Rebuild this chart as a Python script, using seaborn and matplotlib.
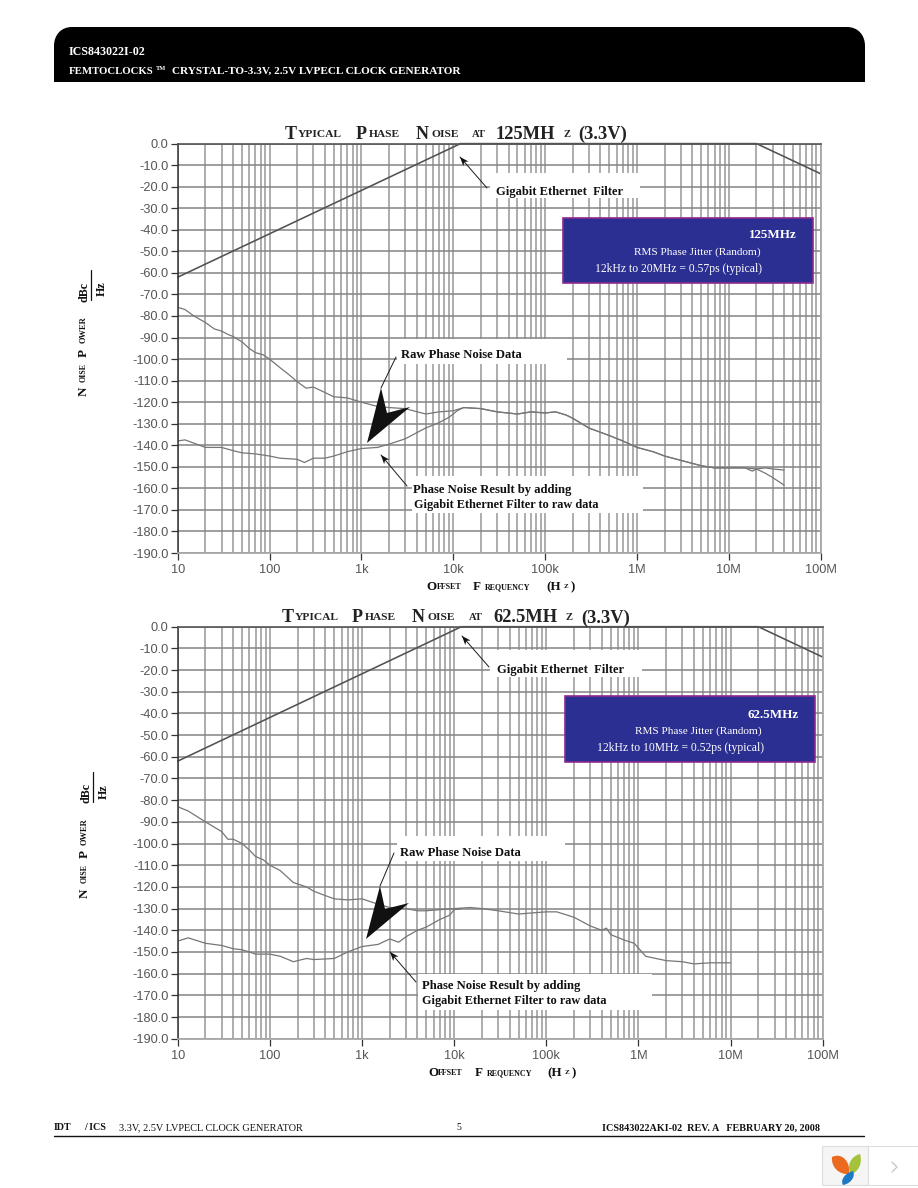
import numpy as np
import matplotlib
matplotlib.use("Agg")
import matplotlib.pyplot as plt
from matplotlib.patches import Rectangle, Polygon, PathPatch
from matplotlib.path import Path
from matplotlib.ticker import FixedLocator, NullFormatter
import seaborn as sns

# ---------- data ----------
y_ticks = [0, -10, -20, -30, -40, -50, -60, -70, -80, -90, -100, -110, -120, -130, -140, -150, -160, -170, -180, -190]
x_major = [10, 100, 1e3, 1e4, 1e5, 1e6, 1e7, 1e8]
x_labels = ["10", "100", "1k", "10k", "100k", "1M", "10M", "100M"]

filter_top_x = [10, 12000, 20e6, 100e6]
filter_top_y = [-62, 0, 0, -14]
filter_bot_x = [10, 12000, 20e6, 100e6]
filter_bot_y = [-62, 0, 0, -14]

raw_top_x = [10, 12, 15, 20, 25, 30, 35, 40, 50, 60, 70, 85, 100, 130, 160, 200, 250, 300, 400, 500, 700, 1000,
             1500, 2000, 3000, 5000, 7000, 10000, 13000, 20000, 30000, 50000, 70000, 100000, 130000, 170000,
             200000, 300000, 500000, 700000, 1e6, 1.5e6, 2e6, 3e6, 5e6, 7e6, 10e6, 15e6, 20e6, 25e6, 30e6, 40e6]
raw_top_y = [-76, -77, -80, -83, -86, -87, -88.5, -89.5, -92, -95, -97, -98, -100, -104, -107, -110.5, -113.5, -113,
             -115.5, -117.5, -118, -120, -122, -122.5, -123, -125.5, -124.5, -124, -122.5, -123, -124.5, -125.5, -124.5,
             -125, -124.5, -126, -127.5, -132, -135.5, -138, -141, -143, -145, -147, -149.5, -150.5, -150.5, -150.5,
             -151, -150.5, -151, -151.5]
res_top_x = [10, 12, 15, 20, 30, 40, 50, 70, 100, 130, 200, 240, 300, 400, 500, 700, 1000, 1500, 2000, 3000, 5000,
             7000, 9000, 10000, 11000, 13000, 20000, 30000, 50000, 70000, 100000, 130000, 170000, 200000, 300000,
             500000, 700000, 1e6, 1.5e6, 2e6, 3e6, 5e6, 7e6, 10e6, 15e6, 18e6, 20e6, 25e6, 30e6, 40e6]
res_top_y = [-138, -137.5, -139, -141, -141, -142.5, -143.5, -144, -145, -146, -146.5, -148, -146, -146, -145, -143,
             -141.5, -141, -139.5, -137, -132, -129.5, -127, -125.5, -124, -122.5, -123, -124.5, -125.5, -124.5, -125,
             -124.5, -126, -127.5, -132, -135.5, -138, -141, -143, -145, -147, -149.5, -150.5, -150.5, -150.5, -152,
             -151, -153, -155, -158.5]

raw_bot_x = [10, 13, 20, 30, 35, 40, 50, 60, 70, 85, 100, 130, 180, 250, 300, 400, 500, 700, 1000, 1500, 2000, 3000,
             4000, 5000, 7000, 10000, 15000, 20000, 30000, 50000, 70000, 100000, 130000, 200000, 300000, 400000,
             450000, 500000, 700000, 900000, 1.2e6, 2e6, 3e6, 4e6, 6e6, 10e6]
raw_bot_y = [-83, -85, -90, -94.5, -98, -98, -100, -103, -106, -107.5, -110, -112.5, -118, -120, -122, -124, -125.5,
             -126, -125.5, -128, -129.5, -130, -131, -131, -130.5, -130, -129.5, -130, -131, -132.5, -132, -131.5,
             -131.5, -134, -138, -140, -139, -142, -144.5, -146, -152, -154, -154.5, -155.5, -155, -155]
res_bot_x = [10, 13, 20, 30, 40, 50, 60, 70, 100, 130, 180, 250, 300, 500, 700, 1000, 1500, 2000, 2500, 3000, 4000,
             5000, 7000, 9000, 10000, 12000]
res_bot_y = [-145, -143.5, -146, -147, -148.5, -149, -150, -151, -151, -152, -154.5, -153, -153.5, -153, -150, -147.5,
             -146.5, -144, -145.5, -143, -140, -138.5, -135, -133, -130.5, -130]

W, H = 918, 1188
sns.set_theme(style="white")
fig = plt.figure(figsize=(W / 100, H / 100), dpi=100, facecolor="white")

SERIF = "Liberation Serif"
SANS = "Liberation Sans"
PX = 0.72


def make_axes(l, r, t, b, fx, fy, rx, ry, qx, qy):
    ax = fig.add_axes([l / W, 1 - b / H, (r - l) / W, (b - t) / H], zorder=1)
    ax.set_xscale("log")
    ax.set_xlim(10, 1e8)
    ax.set_ylim(-190, 0)
    minors = [m * 10.0 ** e for e in range(1, 8) for m in range(2, 10)]
    ax.xaxis.set_major_locator(FixedLocator(x_major))
    ax.xaxis.set_minor_locator(FixedLocator(minors))
    ax.xaxis.set_minor_formatter(NullFormatter())
    ax.set_xticks(x_major, x_labels)
    ax.set_yticks(y_ticks, [f"{v:.1f}" for v in y_ticks])
    ax.grid(True, which="major", axis="y", color="#848484", lw=1.1)
    ax.grid(True, which="both", axis="x", color="#979797", lw=1.1)
    ax.set_axisbelow(True)
    ax.tick_params(axis="both", which="minor", length=0)
    ax.tick_params(axis="y", which="major", length=5, width=0.9, color="#333333", labelsize=9.2,
                   labelcolor="#555555", pad=1.5, left=True)
    ax.tick_params(axis="x", which="major", length=5, width=0.9, color="#333333", labelsize=9.2,
                   labelcolor="#555555", pad=3, bottom=True)
    for lab in ax.get_xticklabels() + ax.get_yticklabels():
        lab.set_fontfamily(SANS)
    ax.spines["top"].set(color="#555555", lw=1.2)
    ax.spines["left"].set(color="#333333", lw=1.1)
    ax.spines["bottom"].set(color="#a8a8a8", lw=1.3)
    ax.spines["right"].set(color="#a8a8a8", lw=1.3)
    sns.lineplot(x=qx, y=qy, ax=ax, color="#767676", lw=0.9, estimator=None, sort=False, legend=False)
    sns.lineplot(x=rx, y=ry, ax=ax, color="#767676", lw=0.9, estimator=None, sort=False, legend=False)
    sns.lineplot(x=fx, y=fy, ax=ax, color="#4f5254", lw=1.15, estimator=None, sort=False, legend=False, clip_on=False)
    ax.set_xlabel("")
    ax.set_ylabel("")
    return ax


make_axes(177.7, 820.7, 143.6, 553, filter_top_x, filter_top_y, raw_top_x, raw_top_y, res_top_x, res_top_y)
make_axes(177.7, 822.7, 626.7, 1038.7, filter_bot_x, filter_bot_y, raw_bot_x, raw_bot_y, res_bot_x, res_bot_y)

# page overlay in pixel coordinates
page = fig.add_axes([0, 0, 1, 1], zorder=5)
page.set_xlim(0, W)
page.set_ylim(H, 0)
page.axis("off")
page.patch.set_alpha(0)


def T(x, y, s, px=12, bold=True, color="#111111", ha="left", rot=0, va="center"):
    page.text(x, y, s, fontsize=px * PX, family=SERIF, weight="bold" if bold else "normal", color=color,
              ha=ha, va=va, rotation=rot, rotation_mode="anchor" if rot else "default")


def box(x0, y0, x1, y1, fc="white", ec="none", lw=0, z=2):
    page.add_patch(Rectangle((x0, y0), x1 - x0, y1 - y0, fc=fc, ec=ec, lw=lw, zorder=z))


def arrow(head, tail):
    page.plot([head[0], tail[0]], [head[1], tail[1]], color="#1a1a1a", lw=0.7, zorder=3)
    d = np.array(tail, float) - np.array(head, float)
    d = d / np.hypot(*d)
    n = np.array([-d[1], d[0]])
    h = np.array(head, float)
    page.add_patch(Polygon([h, h + d * 9 + n * 3.5, h + d * 6.5, h + d * 9 - n * 3.5], fc="#111111", ec="none", zorder=3))


# header
hdr_codes = [Path.MOVETO, Path.LINETO, Path.CURVE4, Path.CURVE4, Path.CURVE4, Path.LINETO,
             Path.CURVE4, Path.CURVE4, Path.CURVE4, Path.LINETO, Path.CLOSEPOLY]
hdr_verts = [(54, 82), (54, 46), (54, 35), (61, 27), (72, 27), (847, 27), (858, 27), (865, 35), (865, 46), (865, 82), (54, 82)]
page.add_patch(PathPatch(Path(hdr_verts, hdr_codes), fc="black", ec="none", zorder=1))
T(69, 52, "ICS843022I-02", 12, color="white")
T(69, 71, "FEMTOCLOCKS", 10.7, color="white")
T(156, 68.5, "TM", 6.5, color="white")
T(172, 71, "CRYSTAL-TO-3.3V, 2.5V LVPECL CLOCK GENERATOR", 11.3, color="white")

# white label patches, blue boxes, callouts
for b in [(490, 173, 640, 198), (397, 339, 567, 364), (412, 476, 643, 513),
          (490, 650, 642, 677), (397, 836, 565, 861), (418, 974, 652, 1010)]:
    box(*b)
box(563, 218, 813, 283, fc="#2b2f92", ec="#8e2a90", lw=1.2)
box(565, 696, 815, 762, fc="#2b2f92", ec="#8e2a90", lw=1.2)

T(749, 235, "125MHz", 13, color="white")
T(634, 252.5, "RMS Phase Jitter (Random)", 11.2, bold=False, color="white")
T(595, 269, "12kHz to 20MHz = 0.57ps (typical)", 11.6, bold=False, color="white")
T(747, 714.5, "62.5MHz", 13, color="white")
T(635, 731.5, "RMS Phase Jitter (Random)", 11.2, bold=False, color="white")
T(597, 747.5, "12kHz to 10MHz = 0.52ps (typical)", 11.6, bold=False, color="white")

T(496, 191.5, "Gigabit Ethernet  Filter", 12.5)
T(401, 355.5, "Raw Phase Noise Data", 12.6)
T(413, 489.5, "Phase Noise Result by adding", 12.6)
T(414, 505, "Gigabit Ethernet Filter to raw data", 12.3)
T(497, 670, "Gigabit Ethernet  Filter", 12.5)
T(400, 852.5, "Raw Phase Noise Data", 12.6)
T(422, 986.5, "Phase Noise Result by adding", 12.6)
T(422, 1001, "Gigabit Ethernet Filter to raw data", 12.3)

arrow((460, 157), (487, 188))
arrow((381, 455), (407, 486))
arrow((462, 636), (489, 667))
arrow((390, 952), (416, 982))

page.add_patch(Polygon([(367, 443), (381, 388), (387, 413), (410, 407)], fc="#111111", ec="none", zorder=4))
page.plot([381, 396], [388, 357], color="#1a1a1a", lw=0.7, zorder=3)
page.add_patch(Polygon([(366, 939), (380, 886), (385, 909), (409, 903)], fc="#111111", ec="none", zorder=4))
page.plot([380, 394], [886, 853], color="#1a1a1a", lw=0.7, zorder=3)

# titles (small caps built from separate texts)
for yy, sets in [
    (134.5, [(285, "T", 18), (298, "YPICAL", 11.5), (356, "P", 18), (369, "HASE", 11.5), (416, "N", 18),
             (431, "OISE", 11.5), (472, "AT", 10.5), (496, "125MH", 18.5), (563, "Z", 10.5), (578, "(3.3V)", 18.5)]),
    (618, [(282, "T", 18), (295, "YPICAL", 11.5), (352, "P", 18), (365, "HASE", 11.5), (412, "N", 18),
           (427, "OISE", 11.5), (469, "AT", 10.5), (493, "62.5MH", 18.5), (566, "Z", 10.5), (581, "(3.3V)", 18.5)]),
]:
    for x, s, px in sets:
        T(x, yy, s, px, color="#222222")

# x axis names
for yy, sets in [
    (587, [(426, "O", 13), (437, "FFSET", 8), (473, "F", 13), (485, "REQUENCY", 8), (546, "(H", 13), (564, "Z", 7), (571, ")", 13)]),
    (1073, [(428, "O", 13), (438, "FFSET", 8), (475, "F", 13), (487, "REQUENCY", 8), (547, "(H", 13), (565, "Z", 7), (572, ")", 13)]),
]:
    for x, s, px in sets:
        T(x, yy, s, px)

# y axis names (rotated)
for xx, sets, dbc, hz, frac in [
    (84, [(396, "N", 13), (382, "OISE", 8), (357, "P", 13), (343, "OWER", 8.5)], (84, 302), (102, 296), (91, 270, 300)),
    (85, [(898, "N", 13), (883, "OISE", 8), (858, "P", 13), (845, "OWER", 8.5)], (86, 803), (104, 799), (93, 772, 802)),
]:
    for y, s, px in sets:
        T(xx, y, s, px, rot=90)
    T(dbc[0], dbc[1], "dBc", 12, rot=90)
    T(hz[0], hz[1], "Hz", 12, rot=90)
    page.plot([frac[0], frac[0]], [frac[1], frac[2]], color="#111111", lw=0.9)

# footer
page.plot([54, 864], [1136, 1136], color="#111111", lw=1.0)
T(54, 1128, "IDT", 10)
T(84, 1128, "/ ICS", 10)
T(119, 1128, "3.3V, 2.5V LVPECL CLOCK GENERATOR", 10.3, bold=False)
T(456, 1128, "5", 10, bold=False)
T(602, 1128, "ICS843022AKI-02  REV. A   FEBRUARY 20, 2008", 10.1)

# viewer widget in the corner
box(822, 1146, 868, 1185, fc="#f5f5f5", ec="#dddddd", lw=0.8)
box(868, 1146, 918, 1185, fc="white", ec="#dddddd", lw=0.8)


def petal(p0, c1, c2, p1, c3, c4, color):
    page.add_patch(PathPatch(Path([p0, c1, c2, p1, c3, c4, p0, p0],
                                  [Path.MOVETO, Path.CURVE4, Path.CURVE4, Path.CURVE4, Path.CURVE4, Path.CURVE4, Path.CURVE4, Path.CLOSEPOLY]),
                             fc=color, ec="none", zorder=3))


petal((832, 1157), (842, 1152), (851, 1162), (849, 1174), (840, 1175), (831, 1168), "#ec6a1e")
petal((860, 1154), (863, 1164), (858, 1172), (851, 1174), (846, 1166), (851, 1156), "#a4c33a")
petal((853, 1171), (856, 1177), (850, 1184), (843, 1185), (840, 1180), (845, 1173), "#1f78c4")
page.plot([892, 897, 892], [1162, 1167, 1172], color="#c4c4c4", lw=0.9)

fig.savefig("out.png", dpi=100, facecolor="white")
